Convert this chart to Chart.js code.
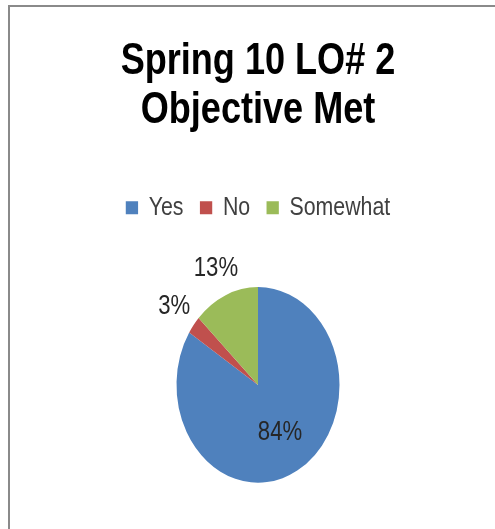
<!DOCTYPE html>
<html>
<head>
<meta charset="utf-8">
<script src="https://cdn.jsdelivr.net/npm/chart.js@4.4.1/dist/chart.umd.min.js"></script>
<style>
  html, body { margin: 0; padding: 0; background: #fff; overflow: hidden; }
  #frame {
    position: absolute; left: 8px; top: 5px; width: 495px; height: 530px;
    border-left: 2px solid #8a8a8a; border-top: 2px solid #8a8a8a;
  }
  #pie-wrapper { position: absolute; left: 0; top: 0; width: 495px; height: 529px; }
</style>
</head>
<body>
<div id="frame"></div>
<div id="pie-wrapper">
  <canvas id="pie-chart" width="495" height="529"></canvas>
</div>
<script>
// chart data
const titleLines = ['Spring 10 LO# 2', 'Objective Met'];
const categories = ['Yes', 'No', 'Somewhat'];
const shares = [84, 3, 13];
const sliceColors = ['#4f81bd', '#c0504d', '#9bbb59'];

const FONT = '"Liberation Sans", Arial, sans-serif';
const STRETCH_Y = 1.2;   // the source pie is an upright ellipse
const NARROW_X = 0.82;   // source text is a narrow face (Calibri-like)

// squeeze a layout box horizontally around its own centre
function narrowBox(chart, box) {
  const draw = box.draw;
  box.draw = function (area) {
    const c = chart.ctx;
    const cx = (this.left + this.right) / 2;
    c.save();
    c.translate(cx, 0);
    c.scale(NARROW_X, 1);
    c.translate(-cx, 0);
    draw.call(this, area);
    c.restore();
  };
}

const boxTweaks = {
  id: 'boxTweaks',
  beforeInit(chart) {
    const legend = chart.legend;
    const fit = legend.fit;
    // push the plot area down below the legend
    legend.fit = function () {
      fit.call(legend);
      this.height += 52;
    };
    narrowBox(chart, legend);
    narrowBox(chart, chart.titleBlock);
  }
};

const ellipseAndLabels = {
  id: 'ellipseAndLabels',
  beforeDatasetsDraw(chart) {
    const arc = chart.getDatasetMeta(0).data[0];
    const c = chart.ctx;
    c.save();
    c.translate(arc.x, arc.y);
    c.scale(1, STRETCH_Y);
    c.translate(-arc.x, -arc.y);
  },
  afterDatasetsDraw(chart) {
    const c = chart.ctx;
    c.restore();
    const meta = chart.getDatasetMeta(0);
    meta.data.forEach((arc, i) => {
      const mid = (arc.startAngle + arc.endAngle) / 2;
      const k = shares[i] > 50 ? 0.56 : 1.3;
      const r = arc.outerRadius * k;
      const x = arc.x + Math.cos(mid) * r;
      const y = arc.y + Math.sin(mid) * r * STRETCH_Y;
      c.save();
      c.font = '27px ' + FONT;
      c.fillStyle = '#262626';
      c.textAlign = 'center';
      c.textBaseline = 'middle';
      c.translate(x, y);
      c.scale(NARROW_X, 1);
      c.fillText(shares[i] + '%', 0, 0);
      c.restore();
    });
  }
};

const ctx = document.getElementById('pie-chart').getContext('2d');
new Chart(ctx, {
  type: 'pie',
  data: {
    labels: categories,
    datasets: [{
      data: shares,
      backgroundColor: sliceColors,
      borderWidth: 0,
      radius: 81.5
    }]
  },
  options: {
    responsive: false,
    animation: false,
    events: [],
    layout: { padding: { left: 21, right: 0, top: 0, bottom: 42 } },
    plugins: {
      title: {
        display: true,
        text: titleLines,
        color: '#000',
        font: { family: FONT, size: 44, weight: 'bold', lineHeight: 1.1 },
        padding: { top: 38, bottom: 40 }
      },
      legend: {
        position: 'top',
        labels: {
          color: '#404040',
          font: { family: FONT, size: 26 },
          boxWidth: 15,
          boxHeight: 13,
          padding: 20
        }
      },
      tooltip: { enabled: false }
    }
  },
  plugins: [boxTweaks, ellipseAndLabels]
});
</script>
</body>
</html>
